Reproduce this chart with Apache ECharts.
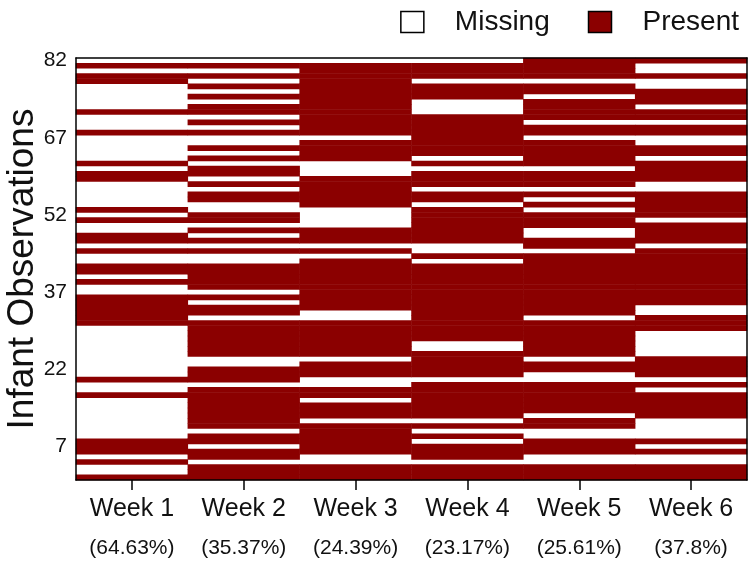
<!DOCTYPE html>
<html>
<head>
<meta charset="utf-8">
<script src="https://cdn.jsdelivr.net/npm/echarts@6/dist/echarts.min.js"></script>
<style>
html,body{margin:0;padding:0;background:#fff;}
#chart{width:750px;height:562px;}
</style>
</head>
<body>
<div id="chart"></div>
<script>
// Columns (weeks) and the share of missing observations printed under each
const weeks = ['Week 1', 'Week 2', 'Week 3', 'Week 4', 'Week 5', 'Week 6'];
const missingPct = ['64.63%', '35.37%', '24.39%', '23.17%', '25.61%', '37.8%'];
// Y tick labels shown on the axis
const yTickLabels = ['7', '22', '37', '52', '67', '82'];
// Observation ids (categories on the y axis, bottom to top)
const observations = ['1','2','3','4','5','6','7','8','9','10','11','12','13','14','15','16','17','18','19','20',
  '21','22','23','24','25','26','27','28','29','30','31','32','33','34','35','36','37','38','39','40',
  '41','42','43','44','45','46','47','48','49','50','51','52','53','54','55','56','57','58','59','60',
  '61','62','63','64','65','66','67','68','69','70','71','72','73','74','75','76','77','78','79','80',
  '81','82'];

// Presence flags (1 = present, 0 = missing), listed from observation 82 (top) down to observation 1 (bottom)
const week1 = [0,1,0,1,1,0,0,0,0,0, 1,0,0,0,1,0,0,0,0,0, 1,0,1,1,0,0,0,0,0,1, 0,1,0,0,1,1,0,1,0,0,
               1,1,0,1,0,0,1,1,1,1, 1,1,0,0,0,0,0,0,0,0, 0,0,1,0,0,1,0,0,0,0, 0,0,0,0,1,1,1,0,1,0, 0,1];
const week2 = [0,1,0,1,0,1,0,1,0,1, 1,0,1,0,1,0,0,1,0,1, 0,1,1,0,1,0,1,1,0,0, 1,1,0,1,0,1,0,1,0,0,
               1,1,1,1,1,0,1,0,1,1, 0,1,1,1,1,1,1,1,0,0, 1,1,1,0,1,1,1,1,1,1, 1,1,0,1,1,0,1,1,0,1, 1,1];
const week3 = [0,1,1,1,1,1,1,1,1,1, 1,1,1,1,1,0,1,1,1,1, 0,0,0,1,1,1,1,1,1,0, 0,0,0,1,1,1,0,1,0,1,
               1,1,1,1,1,1,1,1,1,0, 0,1,1,1,1,1,1,1,0,1, 1,1,0,0,1,1,0,1,1,1, 0,1,1,1,1,1,1,0,0,1, 1,1];
const week4 = [0,1,1,1,0,1,1,1,0,0, 0,1,1,1,1,1,1,1,1,0, 1,0,1,1,1,0,1,1,0,1, 1,1,1,1,1,1,0,0,1,0,
               1,1,1,1,1,1,1,1,1,1, 1,1,1,1,1,0,0,1,1,1, 1,1,0,1,1,1,1,1,1,1, 0,1,0,1,0,1,1,1,0,1, 1,1];
const week5 = [1,1,1,1,0,1,1,0,1,1, 1,1,0,1,1,0,1,1,1,1, 1,0,1,1,1,0,1,0,1,0, 1,1,1,0,0,1,1,0,1,1,
               1,1,1,1,1,1,1,1,1,1, 0,1,1,1,1,1,1,1,0,1, 1,0,0,1,1,1,1,1,1,0, 1,1,0,0,1,1,1,0,0,1, 1,1];
const week6 = [1,0,0,1,0,0,1,1,1,0, 1,1,0,1,1,0,0,1,1,0, 1,1,1,1,0,0,1,1,1,1, 1,0,1,1,1,1,0,1,1,1,
               1,1,1,1,1,1,1,1,0,0, 1,1,1,0,0,0,0,0,1,1, 1,1,0,1,0,1,1,1,1,1, 0,0,0,0,1,0,1,0,0,1, 1,1];

const weekFlags = [week1, week2, week3, week4, week5, week6];
const missingCells = [];
const presentCells = [];
weekFlags.forEach(function (flags, w) {
  flags.forEach(function (v, k) {
    const yIndex = observations.length - 1 - k;
    if (v === 1) presentCells.push([w, yIndex, 1]);
    else missingCells.push([w, yIndex, 0]);
  });
});

const FONT = '"Liberation Sans", Arial, Helvetica, sans-serif';
const RED = '#8b0000';

const chart = echarts.init(document.getElementById('chart'), null, {renderer: 'canvas'});
chart.setOption({
  animation: false,
  backgroundColor: '#fff',
  textStyle: {fontFamily: FONT},
  legend: {
    data: ['Missing', 'Present'],
    right: 6,
    top: 3,
    icon: 'rect',
    itemWidth: 23,
    itemHeight: 21,
    itemGap: 38,
    itemStyle: {borderColor: '#000', borderWidth: 1.5},
    textStyle: {fontFamily: FONT, fontSize: 28, color: '#111', padding: [0, 0, 0, 26]}
  },
  grid: {left: 76, right: 3, top: 58, bottom: 82, containLabel: false, outerBoundsMode: 'none'},
  xAxis: [{
    type: 'category',
    data: weeks,
    position: 'bottom',
    z: 10,
    axisLine: {show: true, lineStyle: {color: '#000', width: 1.5}},
    axisTick: {show: true, alignWithLabel: true, length: 10, lineStyle: {color: '#000', width: 1.5}},
    axisLabel: {
      margin: 13,
      formatter: function (value, idx) {
        return '{w|' + value + '}\n{p|(' + missingPct[idx] + ')}';
      },
      rich: {
        w: {fontFamily: FONT, fontSize: 25, color: '#111', lineHeight: 32},
        p: {fontFamily: FONT, fontSize: 21, color: '#111', lineHeight: 46}
      }
    },
    splitLine: {show: false}
  }, {
    type: 'category',
    data: weeks,
    position: 'top',
    z: 10,
    axisLine: {show: true, lineStyle: {color: '#000', width: 1.5}},
    axisTick: {show: false},
    axisLabel: {show: false}
  }],
  yAxis: [{
    type: 'category',
    data: observations,
    position: 'left',
    z: 10,
    name: 'Infant Observations',
    nameLocation: 'middle',
    nameGap: 35,
    nameMoveOverlap: false,
    nameTextStyle: {fontFamily: FONT, fontSize: 37, color: '#111'},
    axisLine: {show: true, lineStyle: {color: '#000', width: 1.5}},
    axisTick: {show: false},
    axisLabel: {
      margin: 9,
      padding: [6, 0, 0, 0],
      fontFamily: FONT,
      fontSize: 21,
      color: '#111',
      interval: function (index, value) { return yTickLabels.indexOf(value) !== -1; }
    },
    splitLine: {show: false}
  }, {
    type: 'category',
    data: observations,
    position: 'right',
    z: 10,
    axisLine: {show: true, lineStyle: {color: '#000', width: 1.5}},
    axisTick: {show: false},
    axisLabel: {show: false}
  }],
  series: [{
    name: 'Missing',
    type: 'heatmap',
    xAxisIndex: 0,
    yAxisIndex: 0,
    data: missingCells,
    itemStyle: {color: '#ffffff'},
    emphasis: {disabled: true}
  }, {
    name: 'Present',
    type: 'heatmap',
    xAxisIndex: 0,
    yAxisIndex: 0,
    data: presentCells,
    itemStyle: {color: RED},
    emphasis: {disabled: true}
  }]
});
</script>
</body>
</html>
